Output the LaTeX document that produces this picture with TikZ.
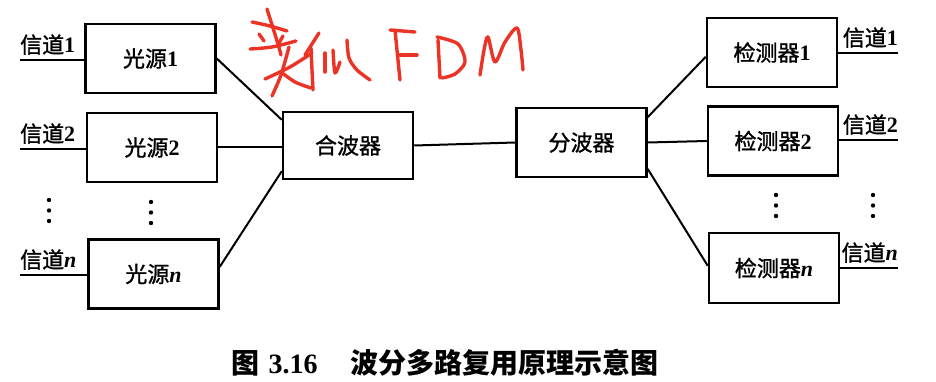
\documentclass[tikz,border=0pt]{standalone}
\usepackage{fontspec}
\setmainfont{Liberation Serif}
\newfontfamily\cjk[FakeBold=1.2]{Noto Sans CJK SC}
\newfontfamily\cjkcap{Noto Sans CJK SC}
\usetikzlibrary{calc}
\definecolor{hand}{RGB}{236,52,38}
\newcommand\zh[1]{{\cjk #1}}
\newcommand\num[1]{{\bfseries #1}}
\newcommand\var{{\bfseries\itshape n}}
\begin{document}
\begin{tikzpicture}[x=1pt,y=-1pt,
  blk/.style={draw, line width=2.5pt, minimum width=130pt, minimum height=69pt,
    inner sep=0pt, font=\fontsize{22}{24}\selectfont},
  wire/.style={line width=2pt},
  lbl/.style={inner sep=0pt, font=\fontsize{22}{24}\selectfont},
  dotmark/.style={fill=black, circle, inner sep=0pt, minimum size=4.4pt},
  pen/.style={draw=hand, line width=3.4pt, line cap=round, line join=round}
]
\useasboundingbox (0,0) rectangle (936,382);

% light sources, combiner, splitter, detectors
\node[blk] (s1) at (150.5,58.5) {\zh{光源}\num{1}};
\node[blk] (s2) at (152,147.5) {\zh{光源}\num{2}};
\node[blk] (sn) at (153.5,274) {\zh{光源}\var};
\node[blk, minimum height=67pt] (mux) at (348,145.5) {\zh{合波器}};
\node[blk] (demux) at (581.5,142.5) {\zh{分波器}};
\node[blk] (d1) at (772,52.5) {\zh{检测器}\num{1}};
\node[blk] (d2) at (773,141) {\zh{检测器}\num{2}};
\node[blk, minimum height=70pt] (dn) at (774,268) {\zh{检测器}\var};

% input channels
\coordinate (in1) at (20,60);
\coordinate (in2) at (20,149);
\coordinate (inn) at (20,275);
\draw[wire] (in1) -- (in1 -| s1.west);
\draw[wire] (in2) -- (in2 -| s2.west);
\draw[wire] (inn) -- (inn -| sn.west);
\node[lbl, anchor=south west, yshift=5pt] (lc1) at (in1) {\zh{信道}\num{1}};
\node[lbl, anchor=south west, yshift=5pt] (lc2) at (in2) {\zh{信道}\num{2}};
\node[lbl, anchor=south west, yshift=5pt] (lcn) at (inn) {\zh{信道}\var};

% output channels
\coordinate (out1) at (898,53);
\coordinate (out2) at (898,140);
\coordinate (outn) at (898,268);
\draw[wire] (out1 -| d1.east) -- (out1);
\draw[wire] (out2 -| d2.east) -- (out2);
\draw[wire] (outn -| dn.east) -- (outn);
\node[lbl, anchor=south east, yshift=5pt] (rc1) at (out1) {\zh{信道}\num{1}};
\node[lbl, anchor=south east, yshift=5pt] (rc2) at (out2) {\zh{信道}\num{2}};
\node[lbl, anchor=south east, yshift=5pt] (rcn) at (outn) {\zh{信道}\var};

% fibre links
\draw[wire] (s1.east) -- ($(mux.north west)!0.13!(mux.south west)$);
\draw[wire] (s2.east) -- (s2.east -| mux.west);
\draw[wire] ($(sn.north east)!0.4!(sn.south east)$) -- ($(mux.north west)!0.87!(mux.south west)$);
\draw[wire] (mux.east) -- (demux.west);
\draw[wire] ($(demux.north east)!0.145!(demux.south east)$) -- ($(d1.north west)!0.56!(d1.south west)$);
\draw[wire] (demux.east) -- (d2.west);
\draw[wire] ($(demux.north east)!0.87!(demux.south east)$) -- ($(dn.north west)!0.47!(dn.south west)$);

% ellipsis dots
\foreach \x/\y in {49/200, 151/202, 776/195, 873/195}{
  \foreach \k in {0,10.5,21}{
    \node[dotmark] at (\x,\y+\k) {};
  }
}

% handwritten note: 类似 FDM
\draw[pen] plot[smooth] coordinates {(252,22) (270,26) (287,31)};
\draw[pen] plot[smooth] coordinates {(267,9) (273,28) (278,44) (281,55)};
\draw[pen] plot[smooth] coordinates {(250,49) (272,47) (296,41)};
\draw[pen] (259,34) -- (264,41);
\draw[pen] (283,36) -- (279,43);
\draw[pen] plot[smooth] coordinates {(265,79) (290,67) (312,53)};
\draw[pen] plot[smooth] coordinates {(289,47) (281,75) (272,96)};
\draw[pen] plot[smooth] coordinates {(281,72) (295,82) (311,88)};
\draw[pen] (319,33) -- (305,55);
\draw[pen] plot[smooth] coordinates {(311,48) (312,70) (313,90)};
\draw[pen] (325,53) -- (325,72);
\draw[pen] plot[smooth] coordinates {(333,50) (335,73) (340,62)};
\draw[pen] plot[smooth] coordinates {(347,40) (349,58) (357,70) (370,80)};
% F
\draw[pen] (395,30) -- (400,80);
\draw[pen] (390,30) -- (415,32);
\draw[pen] (400,55) -- (417,55);
% D
\draw[pen] (438,40) -- (440,78);
\draw[pen] plot[smooth] coordinates {(437,37) (458,44) (465,62) (455,74) (442,78)};
% M
\draw[pen] plot[smooth] coordinates {(480,75) (484,50) (488,37) (495,62) (505,42) (517,28) (521,50) (523,70)};

% caption
\node[inner sep=0pt, font=\fontsize{28}{30}\selectfont] (cap) at (445,363)
  {{\cjkcap\bfseries 图}\hspace{9pt}\num{3.16}\hspace{33pt}{\cjkcap\bfseries 波分多路复用原理示意图}};
\end{tikzpicture}
\end{document}
